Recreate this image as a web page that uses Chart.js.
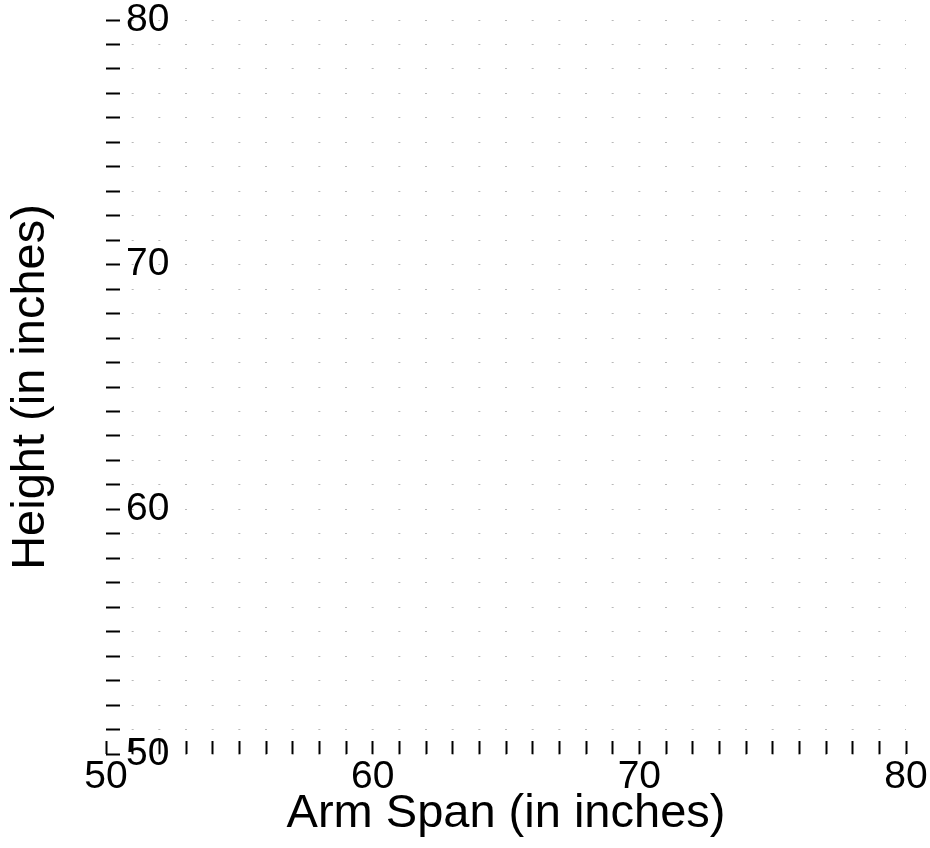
<!DOCTYPE html>
<html>
<head>
<meta charset="utf-8">
<title>Height vs Arm Span</title>
<script src="https://cdn.jsdelivr.net/npm/chart.js@4.4.1/dist/chart.umd.min.js"></script>
<style>
  html, body { margin:0; padding:0; background:#fff; }
  #wrap { width:930px; height:848px; position:relative; }
</style>
</head>
<body>
<div id="wrap"><canvas id="mainChart"></canvas></div>
<script>
/* ======= Dados ======= */
// grade vazia: nenhum ponto no gráfico original
const armSpans = [];
const heights  = [];

const X_MIN = 50, X_MAX = 80;
const Y_MIN = 50, Y_MAX = 80;
const X_LABELS = [50, 60, 70, 80];
const Y_LABELS = [50, 60, 70, 80];

const FONT = '"Liberation Sans", Arial, Helvetica, sans-serif';

const points = armSpans.map((x, i) => ({ x: x, y: heights[i] }));

/* ======= Chart ======= */
const ctx = document.getElementById('mainChart').getContext('2d');
new Chart(ctx, {
  type: 'scatter',
  data: { datasets: [{ data: points, pointRadius: 3, backgroundColor: '#000' }] },
  options: {
    responsive: true, maintainAspectRatio: false, animation: false,
    layout: { padding: { top: 20, right: 24, left: 0, bottom: 0 } },
    plugins: { legend: { display: false }, tooltip: { enabled: false } },
    scales: {
      x: {
        type: 'linear', min: X_MIN, max: X_MAX,
        border: { display: false },
        grid: { drawOnChartArea: false, drawTicks: true, tickLength: -13, tickWidth: 2, tickColor: '#000' },
        ticks: {
          stepSize: 1, autoSkip: false, maxRotation: 0, padding: 17, color: '#000',
          font: { family: FONT, size: 39, lineHeight: 1 },
          callback: v => X_LABELS.includes(v) ? String(v) : ''
        },
        title: { display: true, text: 'Arm Span (in inches)', color: '#000',
                 font: { family: FONT, size: 47, lineHeight: 1 }, padding: { top: 0, bottom: 10 } },
        afterFit: s => { s.height = 94; s.paddingLeft = 0; s.paddingRight = 0; }
      },
      y: {
        type: 'linear', min: Y_MIN, max: Y_MAX,
        border: {
          display: false,
          // pontilhado: um ponto em cada inteiro do eixo x
          dash: c => { const xs = c.chart.scales.x; const p = (xs.right - xs.left) / (X_MAX - X_MIN); return [2, p - 2]; },
          dashOffset: 1
        },
        grid: { color: '#b8b8b8', lineWidth: 1, drawTicks: true, tickLength: -14, tickWidth: 2, tickColor: '#000' },
        ticks: {
          stepSize: 1, autoSkip: false, mirror: true, padding: 20, color: '#000',
          font: { family: FONT, size: 39, lineHeight: 1 },
          callback: v => Y_LABELS.includes(v) ? String(v) : ''
        },
        title: { display: true, text: 'Height (in inches)', color: '#000',
                 font: { family: FONT, size: 47, lineHeight: 1 }, padding: { top: 8, bottom: 0 } },
        afterFit: s => { s.width = 106; s.paddingTop = 0; s.paddingBottom = 0; }
      }
    }
  }
});
</script>
</body>
</html>
